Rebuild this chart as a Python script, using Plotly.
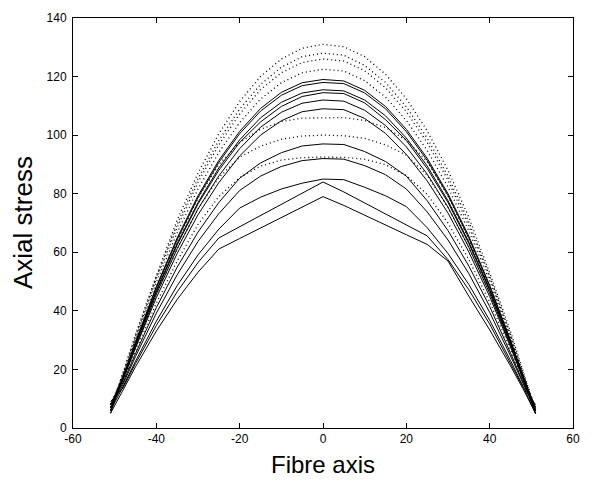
import plotly.graph_objects as go

# Fibre axis positions (shared by every curve)
fibre_x = [-51, -48, -45, -40, -35, -30, -25, -20, -15, -10, -5, 0,
           5, 10, 15, 20, 25, 30, 35, 40, 45, 48, 51]

# Dotted curves (axial stress)
dotted_131 = [6, 19, 32, 52, 71, 87, 100.5, 111.5, 120, 126, 129.7, 131, 130.2, 126.8, 120.8, 112.5, 101.5, 88, 72, 53, 33, 19.5, 6]
dotted_128 = [7, 18.5, 31.4, 51.5, 69.6, 85.2, 98.2, 108.9, 117.3, 123.2, 126.8, 128, 127.3, 123.8, 118, 109.7, 99, 86, 70.3, 52, 32, 19, 6]
dotted_126 = [6, 18.3, 31, 51, 68.5, 83.9, 96.7, 107.2, 115.5, 121.3, 124.8, 126, 125.3, 122, 116.2, 108, 97.5, 84.6, 69, 51.5, 31.5, 18.6, 5]
dotted_122 = [8, 17.9, 30.3, 49.7, 66.7, 81.6, 94.1, 104.3, 112.3, 117.9, 121.3, 122.5, 121.9, 118.6, 113, 105, 94.8, 82.3, 67.3, 50.2, 30.8, 18.3, 7]
dotted_106 = [7, 17.4, 28.7, 46.8, 63.8, 78.5, 90, 97.5, 102, 104.6, 105.8, 106, 106, 105, 102.6, 98.3, 91, 79.2, 64.5, 47.3, 29.3, 17.8, 6]
dotted_100 = [6, 16.8, 28, 45.7, 61.2, 74.8, 85.5, 92.5, 96.2, 98.6, 99.7, 100, 99.8, 98.9, 96.7, 93.2, 86.3, 75.3, 61.7, 46.2, 28.5, 17.2, 5]
dotted_92 = [8, 15.9, 26.3, 42.6, 57, 69.5, 79, 85.5, 89.4, 91.5, 92.3, 92.5, 92.4, 91.8, 89.9, 86.2, 79.8, 70, 57.5, 43, 26.8, 16.3, 7]

# Solid curves (axial stress)
solid_119 = [5, 17.5, 29.5, 48.3, 64.9, 79.3, 91.4, 101.3, 109.1, 114.6, 117.9, 119, 118.5, 115.3, 109.8, 102, 92.1, 80, 65.5, 48.8, 30, 17.9, 5]
solid_118 = [6, 17.4, 29.3, 47.9, 64.3, 78.7, 90.7, 100.5, 108.2, 113.6, 116.9, 118, 117.6, 114.4, 109, 101.2, 91.4, 79.4, 64.9, 48.3, 29.7, 17.8, 6]
solid_115 = [7, 17.2, 28.8, 47, 63, 77, 88.8, 98.4, 105.9, 111.2, 114.4, 115.5, 115.1, 112, 106.6, 99, 89.5, 77.6, 63.5, 47.4, 29.2, 17.5, 6]
solid_114 = [8, 17, 28.5, 46.5, 62.5, 76.5, 88, 97.5, 104.5, 109.8, 113.2, 114.5, 114.2, 111, 105.3, 98.2, 88.6, 77, 63, 47, 29, 17.3, 7]
solid_112 = [6, 16.8, 28, 45.7, 61.2, 74.8, 86.1, 95.4, 102.7, 107.8, 110.9, 112, 111.6, 108.5, 103.3, 96, 86.7, 75.4, 61.7, 46, 28.3, 17, 5]
solid_109 = [7, 16.4, 27.4, 44.5, 59.6, 72.8, 83.8, 92.9, 100, 104.9, 108, 109, 108.7, 105.7, 100.6, 93.4, 84.4, 73.4, 60.1, 44.9, 27.7, 16.6, 6]
solid_97 = [8, 15.5, 25.4, 41.1, 54.9, 66.9, 77, 85.3, 90.5, 94, 96.3, 97, 96.8, 94.4, 91, 86, 77.6, 67.4, 55.3, 41.5, 25.6, 15.7, 7]
solid_92 = [7, 14.9, 24.4, 39.2, 52.3, 63.7, 73.2, 81.1, 86, 89.3, 91.3, 92, 91.8, 89.6, 86.5, 81.6, 73.8, 64.2, 52.7, 39.5, 24.6, 15.1, 6]
solid_85 = [6, 14.1, 22.8, 36.5, 48.6, 59.1, 67.9, 75.1, 78.8, 81.6, 83.6, 85, 84.8, 82.2, 79.3, 75.6, 68.4, 59.6, 49, 36.8, 23, 14.3, 5]
solid_84 = [9, 13.7, 22, 35, 46.5, 56.5, 64.9, 68.7, 72.5, 76.4, 80.2, 84, 80.6, 76.9, 73.1, 69.4, 65.6, 57.5, 47.2, 35.5, 22.3, 14, 8]
solid_79 = [5, 13.1, 20.9, 33.1, 43.9, 53.2, 61.1, 64.7, 68.3, 71.8, 75.4, 79, 76, 72.6, 69.3, 66, 62.7, 57, 45, 33.5, 21.2, 13.4, 5]

x_ticks = [-60, -40, -20, 0, 20, 40, 60]
y_ticks = [0, 20, 40, 60, 80, 100, 120, 140]

dotted_series = [dotted_131, dotted_128, dotted_126, dotted_122, dotted_106, dotted_100, dotted_92]
solid_series = [solid_119, solid_118, solid_115, solid_114, solid_112, solid_109,
                solid_97, solid_92, solid_85, solid_84, solid_79]

fig = go.Figure()
for ys in solid_series:
    fig.add_trace(go.Scatter(x=fibre_x, y=ys, mode="lines",
                             line=dict(color="black", width=1), showlegend=False,
                             hoverinfo="skip"))
for ys in dotted_series:
    fig.add_trace(go.Scatter(x=fibre_x, y=ys, mode="lines",
                             line=dict(color="black", width=1.3, dash="1px,3px"),
                             showlegend=False, hoverinfo="skip"))

font_family = "Liberation Sans, Arial, sans-serif"
axis_common = dict(showline=True, linecolor="black", linewidth=1, mirror="ticks",
                   ticks="inside", ticklen=5, tickcolor="black", tickwidth=1,
                   showgrid=False, zeroline=False, automargin=False,
                   tickfont=dict(family=font_family, size=12, color="black"))

# The page body adds an 8px offset, so the figure is sized to fit the window.
fig.update_layout(
    width=597, height=476,
    margin=dict(l=65, r=32, t=10, b=56),
    paper_bgcolor="white", plot_bgcolor="white",
    font=dict(family=font_family, color="black"),
    xaxis=dict(range=[-60, 60], tickvals=x_ticks, ticktext=[str(v) for v in x_ticks],
               title=dict(text="Fibre axis", font=dict(size=24, family=font_family), standoff=10),
               **axis_common),
    yaxis=dict(range=[0, 140], tickvals=y_ticks, ticktext=[str(v) for v in y_ticks],
               ticklabelstandoff=3, **axis_common),
    annotations=[dict(text="Axial stress", textangle=-90, xref="paper", yref="paper",
                      x=0, y=0.5, xanchor="center", yanchor="middle", xshift=-50,
                      showarrow=False, font=dict(size=26, family=font_family, color="black"))],
)

fig.write_html("out.html")
